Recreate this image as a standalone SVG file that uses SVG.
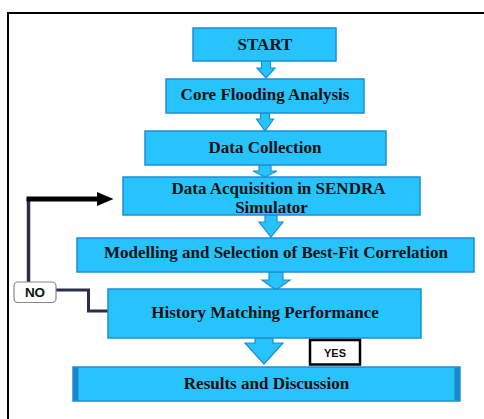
<svg xmlns="http://www.w3.org/2000/svg" width="484" height="419" viewBox="0 0 484 419">
<style>
.box{fill:#27c3fc;stroke:#1c8fd4;stroke-width:1.5}
.arr{fill:#27c3fc;stroke:#1c8fd4;stroke-width:1.2;stroke-linejoin:miter}
.t{font-family:"Liberation Serif","Times New Roman",serif;font-weight:bold;font-size:17px;fill:#111;text-anchor:middle}
.s{font-family:"Liberation Sans",Arial,sans-serif;font-weight:bold;fill:#111;text-anchor:middle}
</style>
<rect x="0" y="0" width="484" height="419" fill="#fff"/>
<rect x="8" y="13" width="500" height="420" fill="none" stroke="#000" stroke-width="2"/>
<g id="connectors">
<polygon class="arr" points="261.5,61 270.5,61 270.5,68 275,68 266,78 257,68 261.5,68"/>
<polygon class="arr" points="260.5,113 269.5,113 269.5,119 273.5,119 265,131 256.5,119 260.5,119"/>
<polygon class="arr" points="259,165 271,165 271,171 277,171 265,177 253,171 259,171"/>
<polygon class="arr" points="265,215 277,215 277,222 283,222 271,237 259,222 265,222"/>
<polygon class="arr" points="269,272 283,272 283,280 290,280 276,290 262,280 269,280"/>
<polygon class="arr" points="255,338 273,338 273,343 283,343 264,364 245,343 255,343"/>
<polyline points="56,290 88.5,290 88.5,311 108,311" fill="none" stroke="#2c2c4c" stroke-width="3"/>
<line x1="28.5" y1="282" x2="28.5" y2="199" stroke="#2c2c4c" stroke-width="3.5"/>
<polyline points="26.5,199 100,199" fill="none" stroke="#000" stroke-width="5"/>
<polygon points="97,192 113.5,199 97,206" fill="#000"/>
</g>
<g id="start"><rect class="box" x="193" y="28" width="143" height="33"/><text class="t" x="265" y="49.5">START</text></g>
<g id="core"><rect class="box" x="166" y="79" width="198" height="34"/><text class="t" x="265" y="100">Core Flooding Analysis</text></g>
<g id="collection"><rect class="box" x="145" y="131" width="241" height="34"/><text class="t" x="265" y="152.5">Data Collection</text></g>
<g id="acquisition"><rect class="box" x="123" y="177" width="297" height="38"/><text class="t" x="278.5" y="193.5">Data Acquisition in SENDRA</text><text class="t" x="271.5" y="212.5">Simulator</text></g>
<g id="modelling"><rect class="box" x="77" y="238" width="397" height="34"/><text class="t" x="276" y="257.5">Modelling and Selection of Best-Fit Correlation</text></g>
<g id="history"><rect class="box" x="108" y="289" width="313" height="49"/><text class="t" x="265" y="317.5">History Matching Performance</text></g>
<g id="results"><rect class="box" x="73" y="367" width="387" height="34"/><rect x="73.5" y="367.5" width="5" height="33" fill="#1a86c8"/><rect x="454.5" y="367.5" width="5" height="33" fill="#1a86c8"/><text class="t" x="266.5" y="388.5">Results and Discussion</text></g>
<g id="yes"><rect x="310" y="340" width="50" height="24.5" fill="#fff" stroke="#000" stroke-width="2.5"/><text class="s" x="335" y="356.5" font-size="11">YES</text></g>
<g id="no"><rect x="14" y="282" width="42" height="20.5" rx="4" fill="#fff" stroke="#888" stroke-width="1.2"/><text class="s" x="35" y="297" font-size="13.5">NO</text></g>
</svg>
